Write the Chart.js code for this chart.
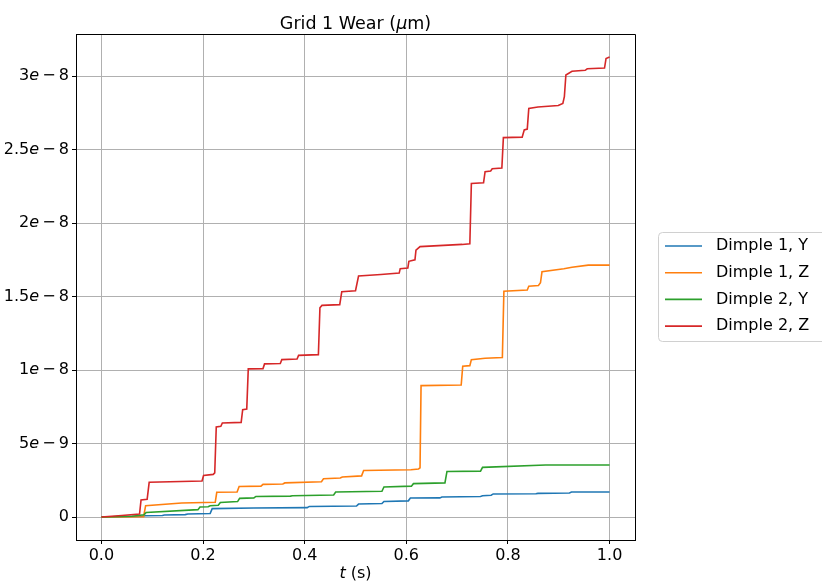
<!DOCTYPE html>
<html><head><meta charset="utf-8">
<script src="https://cdn.jsdelivr.net/npm/chart.js@4/dist/chart.umd.min.js"></script>
<style>html,body{margin:0;padding:0;background:#fff;}#wrap{width:822px;height:584px;position:relative;}</style>
</head><body><div id="wrap"><canvas id="c" width="822" height="584"></canvas></div>
<script>
// ---- data ----
const seriesNames = ['Dimple 1, Y', 'Dimple 1, Z', 'Dimple 2, Y', 'Dimple 2, Z'];
const seriesColors = ['#1f77b4', '#ff7f0e', '#2ca02c', '#d62728'];
const xTicks = [0, 0.2, 0.4, 0.6, 0.8, 1.0];
const xTickLabels = ['0.0', '0.2', '0.4', '0.6', '0.8', '1.0'];
const yTicks = [0, 5e-9, 1e-8, 1.5e-8, 2e-8, 2.5e-8, 3e-8];
const yTickMantissa = ['0', '5', '1', '1.5', '2', '2.5', '3'];
const yTickExponent = ['', '9', '8', '8', '8', '8', '8'];
const titleText = 'Grid 1 Wear (';
// wear values below are in units of 1e-9
const d1yT = [0,0.08,0.086,0.12,0.124,0.165,0.17,0.214,0.218,0.3,0.405,0.409,0.502,0.506,0.552,0.556,0.604,0.608,0.666,0.67,0.746,0.75,0.767,0.771,0.855,0.859,0.921,0.925,1.0];
const d1yV = [0,0.05,0.09,0.1,0.14,0.16,0.2,0.24,0.57,0.61,0.64,0.72,0.75,0.88,0.92,1.06,1.1,1.29,1.3,1.36,1.4,1.45,1.48,1.57,1.58,1.61,1.63,1.7,1.7];
const d1zT = [0,0.083,0.087,0.158,0.224,0.227,0.267,0.271,0.314,0.318,0.357,0.361,0.433,0.437,0.47,0.474,0.512,0.516,0.609,0.624,0.627,0.629,0.708,0.711,0.725,0.728,0.755,0.789,0.792,0.838,0.841,0.86,0.864,0.867,0.91,0.926,0.958,1.0];
const d1zV = [0,0.02,0.77,0.95,1.0,1.68,1.7,2.08,2.1,2.22,2.25,2.32,2.4,2.6,2.65,2.72,2.8,3.17,3.22,3.27,3.35,8.94,8.98,10.26,10.3,10.71,10.8,10.85,15.37,15.45,15.7,15.75,15.94,16.7,16.9,17.0,17.14,17.14];
const d2yT = [0,0.06,0.084,0.088,0.19,0.194,0.21,0.214,0.23,0.234,0.268,0.272,0.3,0.304,0.372,0.376,0.457,0.461,0.552,0.556,0.61,0.614,0.676,0.68,0.746,0.75,0.874,1.0];
const d2yV = [0,0.05,0.15,0.31,0.5,0.68,0.7,0.77,0.8,0.99,1.05,1.27,1.3,1.4,1.42,1.45,1.5,1.7,1.75,2.04,2.1,2.27,2.32,3.1,3.12,3.38,3.54,3.54];
const d2zT = [0,0.04,0.075,0.078,0.09,0.094,0.198,0.201,0.22,0.223,0.226,0.235,0.238,0.275,0.278,0.286,0.289,0.318,0.321,0.352,0.355,0.385,0.388,0.427,0.43,0.434,0.469,0.473,0.5,0.506,0.55,0.586,0.588,0.603,0.605,0.617,0.619,0.627,0.71,0.725,0.728,0.752,0.755,0.766,0.769,0.788,0.791,0.828,0.832,0.838,0.841,0.859,0.899,0.908,0.911,0.914,0.926,0.952,0.956,0.99,0.993,1.0];
const d2zV = [0,0.1,0.2,1.16,1.2,2.36,2.45,2.83,2.9,3.0,6.13,6.17,6.4,6.44,7.3,7.35,10.08,10.1,10.42,10.45,10.71,10.75,11.0,11.05,14.24,14.4,14.45,15.33,15.4,16.4,16.5,16.6,16.9,16.95,17.4,17.5,18.16,18.4,18.55,18.6,22.7,22.75,23.5,23.55,23.7,23.75,25.82,25.85,26.34,26.4,27.8,27.9,28.0,28.15,28.6,30.08,30.33,30.4,30.5,30.55,31.2,31.3];

const seriesT = [d1yT, d1zT, d2yT, d2zT];
const seriesV = [d1yV, d1zV, d2yV, d2zV];

const FONT = "'DejaVu Sans', sans-serif";
const TICK_PX = 16;

function drawRuns(ctx, runs, cx, y, size, align) {
  let w = 0;
  const ms = runs.map(r => { ctx.font = (r.italic ? 'oblique ' : '') + size + 'px ' + FONT; const m = ctx.measureText(r.t).width; w += m; return m; });
  let x = align === 'right' ? cx - w : (align === 'left' ? cx : cx - w / 2);
  runs.forEach((r, i) => { ctx.font = (r.italic ? 'oblique ' : '') + size + 'px ' + FONT; ctx.fillText(r.t, x, y); x += ms[i]; });
}

const decor = {
  id: 'decor',
  afterDraw(chart) {
    const ctx = chart.ctx, a = chart.chartArea, ys = chart.scales.y;
    ctx.save();
    // top & right spines
    ctx.strokeStyle = '#000'; ctx.lineWidth = 1;
    ctx.beginPath();
    ctx.moveTo(Math.round(a.left) + 0.5, Math.round(a.top) + 0.5);
    ctx.lineTo(Math.round(a.right) + 0.5, Math.round(a.top) + 0.5);
    ctx.lineTo(Math.round(a.right) + 0.5, Math.round(a.bottom) + 0.5);
    ctx.stroke();
    ctx.fillStyle = '#000';
    ctx.textBaseline = 'middle';
    // y tick labels (mathtext style)
    yTicks.forEach((v, i) => {
      const py = ys.getPixelForValue(v);
      const runs = yTickExponent[i] === '' ? [{t: yTickMantissa[i]}] :
        [{t: yTickMantissa[i]}, {t: 'e', italic: true}, {t: '\u2009\u2212\u2009'}, {t: yTickExponent[i]}];
      drawRuns(ctx, runs, a.left - 7, py, TICK_PX, 'right');
    });
    // title
    ctx.textBaseline = 'alphabetic';
    drawRuns(ctx, [{t: titleText}, {t: '\u03bc', italic: true}, {t: 'm)'}], (a.left + a.right) / 2, 29, 17.5, 'center');
    // x title
    ctx.textBaseline = 'middle';
    drawRuns(ctx, [{t: 't', italic: true}, {t: ' (s)'}], (a.left + a.right) / 2, 574, TICK_PX, 'center');
    // legend
    const lx = 658.5, ly = 232.5, lw = 200, lh = 109, r = 4;
    ctx.beginPath();
    ctx.moveTo(lx + r, ly); ctx.lineTo(lx + lw - r, ly); ctx.arcTo(lx + lw, ly, lx + lw, ly + r, r);
    ctx.lineTo(lx + lw, ly + lh - r); ctx.arcTo(lx + lw, ly + lh, lx + lw - r, ly + lh, r);
    ctx.lineTo(lx + r, ly + lh); ctx.arcTo(lx, ly + lh, lx, ly + lh - r, r);
    ctx.lineTo(lx, ly + r); ctx.arcTo(lx, ly, lx + r, ly, r);
    ctx.closePath();
    ctx.fillStyle = 'rgba(255,255,255,0.8)'; ctx.fill();
    ctx.strokeStyle = '#d0d0d0'; ctx.lineWidth = 1; ctx.stroke();
    seriesNames.forEach((n, i) => {
      const yy = 246 + i * 26.7;
      ctx.strokeStyle = seriesColors[i]; ctx.lineWidth = 1.6;
      ctx.beginPath(); ctx.moveTo(665, yy); ctx.lineTo(702, yy); ctx.stroke();
      ctx.fillStyle = '#000'; ctx.font = TICK_PX + 'px ' + FONT; ctx.textAlign = 'left';
      ctx.fillText(n, 716, yy);
    });
    ctx.restore();
  }
};

const datasets = seriesNames.map((n, i) => ({
  label: n,
  data: seriesT[i].map((t, k) => ({x: t, y: seriesV[i][k] * 1e-9})),
  borderColor: seriesColors[i],
  borderWidth: 1.6,
  pointRadius: 0,
  fill: false,
  tension: 0,
  order: seriesNames.length - i
}));

new Chart(document.getElementById('c'), {
  type: 'line',
  data: { datasets },
  options: {
    responsive: false,
    animation: false,
    parsing: true,
    layout: { padding: { top: 34, right: 187, bottom: 0, left: 0 } },
    plugins: { legend: { display: false }, title: { display: false }, tooltip: { enabled: false } },
    scales: {
      x: {
        type: 'linear', min: -0.05, max: 1.05,
        afterFit: s => { s.height = 44; },
        afterBuildTicks: s => { s.ticks = xTicks.map(v => ({value: v})); },
        ticks: { callback: (v) => xTickLabels[xTicks.indexOf(v)] ?? '', color: '#000', font: { family: FONT, size: TICK_PX }, padding: 2, maxRotation: 0 },
        grid: { color: '#b0b0b0', lineWidth: 1, tickColor: '#000', tickLength: 4 },
        border: { display: true, color: '#000', width: 1 }
      },
      y: {
        type: 'linear', min: -1.565e-9, max: 32.87e-9,
        afterFit: s => { s.width = 76; },
        afterBuildTicks: s => { s.ticks = yTicks.map(v => ({value: v})); },
        ticks: { callback: () => '', font: { family: FONT, size: TICK_PX } },
        grid: { color: '#b0b0b0', lineWidth: 1, tickColor: '#000', tickLength: 4 },
        border: { display: true, color: '#000', width: 1 }
      }
    }
  },
  plugins: [decor]
});
</script></body></html>
